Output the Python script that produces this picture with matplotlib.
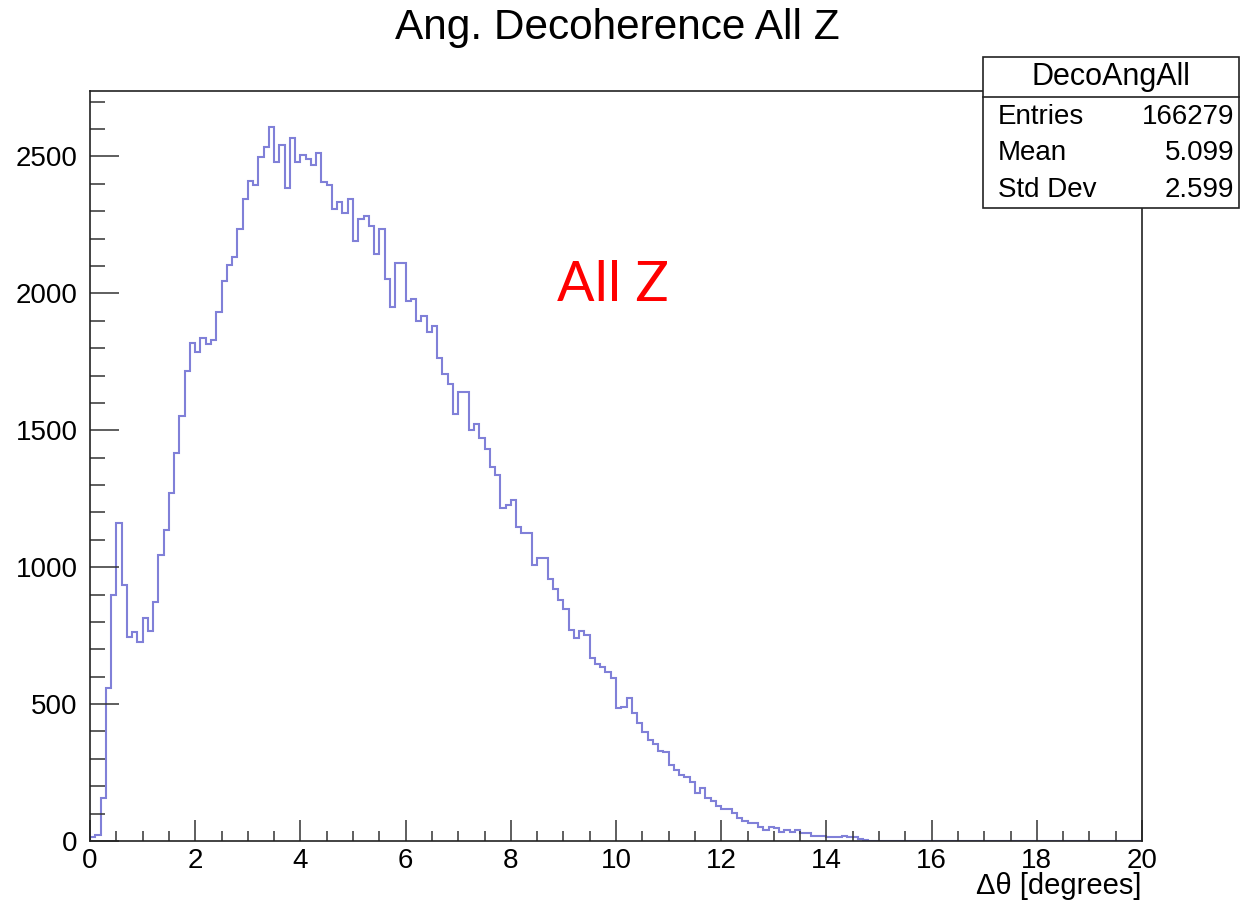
import numpy as np
import matplotlib
matplotlib.use("Agg")
import matplotlib.pyplot as plt
from matplotlib.ticker import MultipleLocator
from matplotlib.patches import Rectangle
from matplotlib.lines import Line2D

plt.rcParams['font.family'] = ['Liberation Sans', 'DejaVu Sans']

# histogram contents, 0.1 degree bins from 0 to 20
counts = [15, 22, 157, 558, 898, 1162, 934, 746, 764, 725, 813, 766, 873, 1044, 1135,
          1271, 1418, 1551, 1716, 1819, 1786, 1837, 1816, 1828, 1932, 2044, 2102, 2133, 2236, 2343,
          2412, 2397, 2498, 2534, 2609, 2479, 2540, 2384, 2568, 2479, 2504, 2491, 2467, 2512, 2405,
          2394, 2308, 2333, 2294, 2345,
          2191, 2272, 2281, 2245, 2145, 2234, 2051, 1950, 2112, 2112, 1972, 1978, 1899, 1917, 1859,
          1881, 1764, 1704, 1670, 1558, 1640, 1640, 1500, 1522, 1470, 1433,
          1366, 1336, 1217, 1226, 1245, 1147, 1123, 1123, 1007, 1032, 1032, 955, 922, 880, 846,
          770, 740, 768, 752,
          670, 646, 636, 618, 594, 484, 490, 521, 466, 430, 399, 369, 353, 330, 326, 277, 259,
          241, 235, 217, 174, 192, 156, 147, 128, 116, 116, 101, 83, 74, 65, 65, 52,
          40, 52, 48, 34, 40, 32, 40, 28, 28, 18, 18, 18, 13, 13, 13, 18, 13, 13, 9, 3]
n_bins = 200
counts = counts + [0] * (n_bins - len(counts))
edges = np.linspace(0, 20, n_bins + 1)

hist_name = "DecoAngAll"
stat_labels = ["Entries", "Mean", "Std Dev"]
stat_values = ["166279", "5.099", "2.599"]

W, H = 1240, 907
fig = plt.figure(figsize=(W / 100, H / 100), dpi=100)
ax = fig.add_axes([90 / W, 1 - 841 / H, 1052 / W, 750 / H])

ax.stairs(counts, edges, color='#8080d8', linewidth=1.5)
ax.set_xlim(0, 20)
ax.set_ylim(0, 2739)

ax.xaxis.set_major_locator(MultipleLocator(2))
ax.xaxis.set_minor_locator(MultipleLocator(0.5))
ax.yaxis.set_major_locator(MultipleLocator(500))
ax.yaxis.set_minor_locator(MultipleLocator(100))
ax.tick_params(axis='both', which='both', direction='in', color='#333333', width=1.1,
               labelsize=20)
ax.tick_params(axis='y', which='major', length=21, pad=9)
ax.tick_params(axis='y', which='minor', length=11)
ax.tick_params(axis='x', which='major', length=15, pad=5)
ax.tick_params(axis='x', which='minor', length=7)
for sp in ax.spines.values():
    sp.set_linewidth(1.2)
    sp.set_color('#222222')

fig.text(617.5 / W, 1 - 28 / H, "Ang. Decoherence All Z", ha='center', va='center', fontsize=30.5)
fig.text(1142 / W, 1 - 886 / H, "Δθ [degrees]", ha='right', va='center', fontsize=21)

ax.text(0.4975, 0.741, "All Z", transform=ax.transAxes, color='red', fontsize=40,
        family=['Lato', 'DejaVu Sans'], ha='center', va='center')

# stats box
bx0, by0, bx1, by1 = 983, 57, 1239, 208
fig.patches.append(Rectangle((bx0 / W, 1 - by1 / H), (bx1 - bx0) / W, (by1 - by0) / H,
                             transform=fig.transFigure, facecolor='white',
                             edgecolor='#222222', linewidth=1.2, zorder=5))
fig.lines.append(Line2D([bx0 / W, bx1 / W], [1 - 97 / H, 1 - 97 / H],
                        transform=fig.transFigure, color='#222222', linewidth=1.2, zorder=6))
fig.text((bx0 + bx1) / 2 / W, 1 - 77 / H, hist_name, ha='center', va='center',
         fontsize=22, zorder=7)
for i, (lab, val) in enumerate(zip(stat_labels, stat_values)):
    yy = 1 - (117 + 36.5 * i) / H
    fig.text(998 / W, yy, lab, ha='left', va='center', fontsize=20, zorder=7)
    fig.text(1234 / W, yy, val, ha='right', va='center', fontsize=20, zorder=7)

fig.savefig("out.png", dpi=100)
